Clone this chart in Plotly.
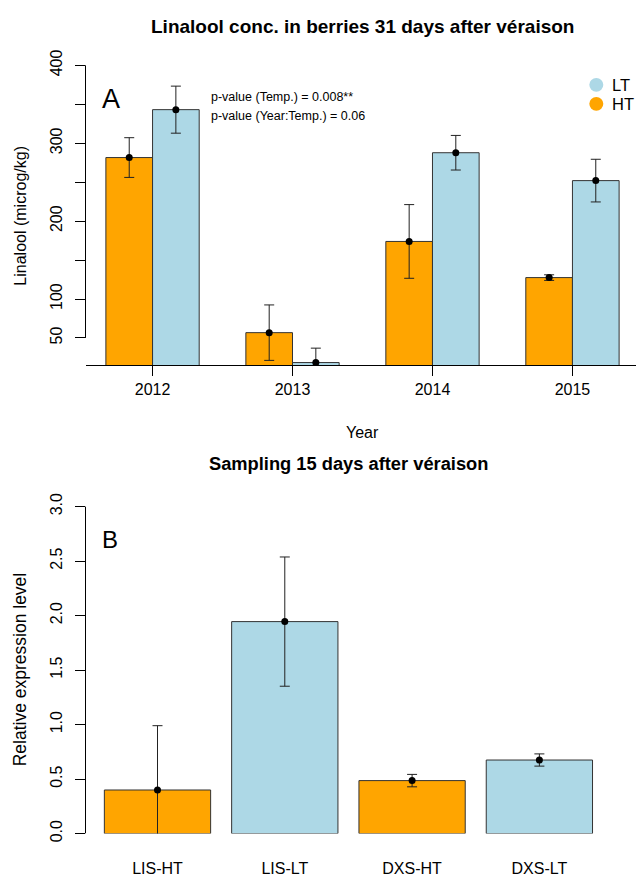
import plotly.graph_objects as go

# ---- data ----
years = ["2012", "2013", "2014", "2015"]
ht_vals = [281.6, 56.8, 173.9, 127.5]
ht_err = [25.5, 35.6, 47.3, 3.6]
lt_vals = [343.1, 18.4, 287.8, 252.0]
lt_err = [30.2, 18.5, 22.2, 27.4]

genes = ["LIS-HT", "LIS-LT", "DXS-HT", "DXS-LT"]
gene_vals = [0.40, 1.945, 0.486, 0.675]
gene_err = [0.59, 0.593, 0.057, 0.056]
gene_group = ["HT", "LT", "HT", "LT"]

top_yticks = [50, 100, 150, 200, 250, 300, 350, 400]
top_ylabels = ["50", "100", "", "200", "", "300", "", "400"]
bot_yticks = [0, 0.5, 1.0, 1.5, 2.0, 2.5, 3.0]

ORANGE = "#FFA500"
LBLUE = "#ADD8E6"
colors = {"HT": ORANGE, "LT": LBLUE}

W, H = 636, 881
FONT = "Liberation Sans, Arial, sans-serif"


def px(p):
    return p / W


def py(p):
    return 1 - p / H


bw = 1 / 3  # bar width in top panel (two bars per year)
xi = list(range(len(years)))
x_ht = [i - bw / 2 for i in xi]
x_lt = [i + bw / 2 for i in xi]

fig = go.Figure()
bar_line = dict(color="#333333", width=1)
err_style = dict(color="#222222", thickness=1, width=5)

# Top panel bars
fig.add_trace(go.Bar(x=x_ht, y=ht_vals, width=bw, marker=dict(color=ORANGE, line=bar_line),
                     xaxis="x", yaxis="y", showlegend=False, hoverinfo="skip"))
fig.add_trace(go.Bar(x=x_lt, y=lt_vals, width=bw, marker=dict(color=LBLUE, line=bar_line),
                     xaxis="x", yaxis="y", showlegend=False, hoverinfo="skip"))
# Top panel error bars + points
fig.add_trace(go.Scatter(x=x_ht, y=ht_vals, mode="markers", marker=dict(color="black", size=7),
                         error_y=dict(type="data", array=ht_err, visible=True, **err_style),
                         xaxis="x", yaxis="y", showlegend=False))
fig.add_trace(go.Scatter(x=x_lt, y=lt_vals, mode="markers", marker=dict(color="black", size=7),
                         error_y=dict(type="data", array=lt_err, visible=True, **err_style),
                         xaxis="x", yaxis="y", showlegend=False))

# Bottom panel
gx = list(range(len(genes)))
fig.add_trace(go.Bar(x=gx, y=gene_vals, width=0.835,
                     marker=dict(color=[colors[g] for g in gene_group], line=bar_line),
                     xaxis="x2", yaxis="y2", showlegend=False, hoverinfo="skip"))
fig.add_trace(go.Scatter(x=gx, y=gene_vals, mode="markers", marker=dict(color="black", size=7),
                         error_y=dict(type="data", array=gene_err, visible=True, **err_style),
                         xaxis="x2", yaxis="y2", showlegend=False))

axis_common = dict(showgrid=False, zeroline=False, tickcolor="black", tickwidth=1,
                   tickfont=dict(family=FONT, size=16, color="black"))

fig.update_layout(
    width=W, height=H,
    margin=dict(l=0, r=0, t=0, b=0),
    paper_bgcolor="white", plot_bgcolor="white",
    barmode="overlay",
    font=dict(family=FONT, color="black"),
    xaxis=dict(domain=[px(85.5), 1], anchor="y", range=[-0.479, 3.454],
               tickmode="array", tickvals=xi, ticktext=years,
               ticks="outside", ticklen=10, showline=True, linecolor="black", linewidth=1,
               **axis_common),
    yaxis=dict(domain=[py(366.3), py(50)], anchor="x", range=[15.4, 415.5],
               tickmode="array", tickvals=top_yticks, ticktext=top_ylabels,
               tickangle=-90, ticks="outside", ticklen=10, showline=False,
               ticklabelstandoff=6, **axis_common),
    xaxis2=dict(domain=[px(85.5), 1], anchor="y2", range=[-0.5656, 3.759],
                tickmode="array", tickvals=gx, ticktext=genes,
                ticks="outside", ticklen=20, showline=False,
                **{**axis_common, "tickcolor": "rgba(0,0,0,0)"}),
    yaxis2=dict(domain=[py(842), py(495)], anchor="x2", range=[0, 3.137],
                tickmode="array", tickvals=bot_yticks,
                ticktext=[f"{v:.1f}" for v in bot_yticks],
                tickangle=-90, ticks="outside", ticklen=10, showline=False,
                ticklabelstandoff=6, **axis_common),
)

# Y axis lines spanning tick range only
fig.add_shape(type="line", xref="paper", yref="y", x0=px(85.5), x1=px(85.5),
              y0=top_yticks[0], y1=top_yticks[-1], line=dict(color="black", width=1))
fig.add_shape(type="line", xref="paper", yref="y2", x0=px(85.5), x1=px(85.5),
              y0=bot_yticks[0], y1=bot_yticks[-1], line=dict(color="black", width=1))

# Legend (circles + text)
for yy, lab in [(82, "LT"), (101.3, "HT")]:
    fig.add_shape(type="circle", xref="paper", yref="paper",
                  x0=px(596.3 - 7), x1=px(596.3 + 7), y0=py(yy + 7), y1=py(yy - 7),
                  fillcolor=colors[lab], line=dict(width=0))
    fig.add_annotation(x=px(609.5), y=py(yy), xref="paper", yref="paper", text=lab,
                       showarrow=False, xanchor="left", yanchor="middle",
                       font=dict(family=FONT, size=16.5, color="black"))

def ann(x, y, text, size, bold=False, angle=0, xanchor="center"):
    fig.add_annotation(x=px(x), y=py(y), xref="paper", yref="paper",
                       text=f"<b>{text}</b>" if bold else text, showarrow=False,
                       xanchor=xanchor, yanchor="middle", textangle=angle,
                       font=dict(family=FONT, size=size, color="black"))

ann(362.5, 23.3, "Linalool conc. in berries 31 days after véraison", 19, bold=True)
ann(348.5, 466, "Sampling 15 days after véraison", 18.3, bold=True)
ann(362.5, 435, "Year", 16)
ann(20.3, 214.5, "Linalool (microg/kg)", 16, angle=-90)
ann(20.3, 675, "Relative expression level", 17.5, angle=-90)
ann(110.5, 96.3, "A", 27)
ann(109.5, 543.3, "B", 24)
ann(209, 94, "p-value (Temp.) = 0.008**", 12.5, xanchor="left")
ann(209, 113.3, "p-value (Year:Temp.) = 0.06", 12.5, xanchor="left")

fig.write_html(
    "out.html",
    config={"displayModeBar": False},
    post_script="document.body.style.margin='0';document.body.style.overflow='hidden';",
)
